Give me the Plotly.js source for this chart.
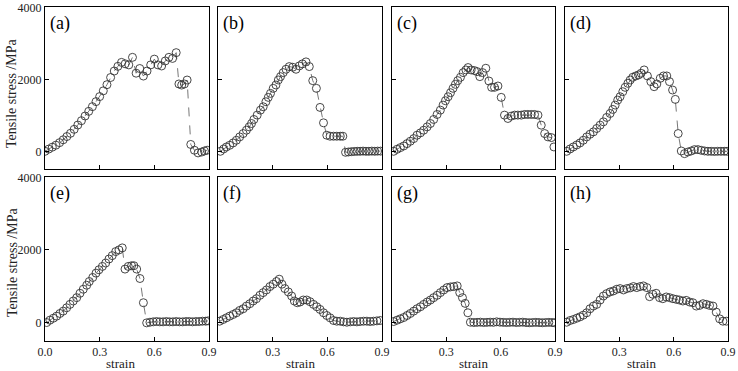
<!DOCTYPE html>
<html>
<head>
<meta charset="utf-8">
<script src="https://cdn.plot.ly/plotly-3.0.1.min.js"></script>
<style>
  html, body { margin: 0; padding: 0; background: #fff; }
  #chart { width: 738px; height: 371px; }
</style>
</head>
<body>
<div id="chart"></div>
<script>
// Stress-strain curves for eight specimens, (a) to (h)
const strainA = [0,0.02,0.04,0.06,0.08,0.10,0.12,0.14,0.16,0.18,0.20,0.22,0.24,0.26,0.28,0.30,0.32,0.34,0.36,0.38,0.40,0.42,0.44,0.46,0.48,0.50,0.52,0.54,0.56,0.58,0.60,0.62,0.64,0.66,0.68,0.70,0.72,0.735,0.75,0.765,0.78,0.80,0.82,0.84,0.86,0.875,0.89];
const stressA = [0,60,115,170,240,320,410,500,610,730,850,980,1110,1240,1380,1520,1680,1850,2050,2230,2360,2470,2430,2400,2610,2170,2300,2090,2230,2400,2560,2400,2370,2510,2610,2580,2740,1870,1840,1870,1980,190,30,-45,-20,10,30];

const strainB = [0.013,0.031,0.046,0.064,0.083,0.101,0.119,0.138,0.156,0.171,0.184,0.197,0.215,0.233,0.248,0.263,0.276,0.288,0.303,0.318,0.331,0.343,0.358,0.373,0.391,0.41,0.428,0.446,0.463,0.483,0.501,0.52,0.54,0.56,0.579,0.597,0.615,0.634,0.652,0.671,0.685,0.70,0.716,0.732,0.748,0.764,0.78,0.796,0.812,0.828,0.844,0.86,0.876,0.892];
const stressB = [0,65,120,167,233,307,400,493,586,679,772,884,1005,1144,1237,1377,1498,1609,1749,1842,1981,2074,2186,2279,2353,2335,2279,2372,2428,2484,2353,1963,1749,1219,791,447,419,419,419,419,419,-28,-19,-10,-5,0,0,5,0,0,5,0,5,5];

const strainC = [0.009,0.028,0.046,0.065,0.083,0.101,0.12,0.138,0.157,0.175,0.194,0.212,0.23,0.249,0.267,0.282,0.295,0.31,0.323,0.337,0.35,0.363,0.378,0.393,0.408,0.42,0.437,0.455,0.47,0.485,0.5,0.518,0.535,0.55,0.566,0.585,0.603,0.621,0.64,0.658,0.677,0.695,0.714,0.732,0.75,0.769,0.787,0.806,0.824,0.843,0.861,0.88,0.894];
const stressC = [0,56,102,149,214,279,353,447,512,586,679,772,884,1023,1144,1284,1405,1516,1628,1749,1860,1963,2056,2186,2260,2326,2260,2242,2214,2074,2186,2307,1953,1777,1777,1814,1498,1005,912,977,1005,1005,1005,1023,1023,1023,1023,1005,726,493,400,381,121];

const strainD = [0.009,0.028,0.046,0.065,0.083,0.101,0.12,0.138,0.157,0.175,0.194,0.212,0.23,0.249,0.264,0.277,0.291,0.304,0.319,0.332,0.347,0.36,0.374,0.391,0.406,0.42,0.437,0.455,0.474,0.492,0.507,0.526,0.544,0.562,0.577,0.594,0.609,0.625,0.642,0.66,0.679,0.697,0.715,0.734,0.752,0.771,0.789,0.807,0.825,0.843,0.861,0.879,0.895];
const stressD = [0,65,121,177,233,307,400,474,540,633,726,819,940,1051,1163,1284,1423,1516,1656,1777,1888,1981,2056,2093,2121,2167,2260,2093,1935,1795,1870,2028,2093,2093,1935,1702,1442,493,9,-65,-19,9,47,47,28,9,0,0,-5,0,0,0,0];

const strainE = [0.009,0.027,0.046,0.064,0.082,0.10,0.119,0.137,0.155,0.174,0.192,0.21,0.229,0.243,0.262,0.28,0.296,0.315,0.333,0.351,0.369,0.388,0.406,0.424,0.439,0.457,0.475,0.488,0.503,0.521,0.54,0.558,0.576,0.594,0.612,0.63,0.648,0.666,0.684,0.702,0.72,0.738,0.756,0.774,0.792,0.81,0.828,0.846,0.864,0.882,0.895];
const stressE = [0,65,120,176,250,315,407,500,593,685,806,917,1028,1130,1241,1361,1454,1546,1639,1750,1843,1954,2000,2056,1472,1546,1565,1565,1472,1213,546,-9,9,20,28,20,20,28,20,20,28,20,20,28,28,20,28,28,37,37,46];

const strainF = [0.009,0.028,0.046,0.064,0.083,0.101,0.119,0.138,0.156,0.175,0.193,0.211,0.23,0.248,0.266,0.285,0.303,0.321,0.336,0.351,0.367,0.386,0.404,0.419,0.435,0.45,0.468,0.487,0.505,0.524,0.542,0.56,0.579,0.597,0.615,0.634,0.652,0.671,0.689,0.707,0.726,0.744,0.762,0.78,0.799,0.817,0.835,0.853,0.872,0.89];
const stressF = [37,83,130,176,222,269,333,380,454,519,593,657,750,824,898,991,1056,1130,1194,1056,935,843,731,593,546,565,620,620,574,500,435,361,269,194,130,56,37,37,19,9,19,28,19,28,37,37,28,37,46,56];

const strainG = [0.009,0.028,0.046,0.065,0.083,0.101,0.12,0.138,0.157,0.175,0.194,0.212,0.23,0.249,0.267,0.286,0.304,0.323,0.341,0.36,0.374,0.389,0.404,0.419,0.433,0.452,0.47,0.488,0.506,0.524,0.542,0.56,0.578,0.596,0.614,0.632,0.65,0.668,0.686,0.704,0.722,0.74,0.758,0.776,0.794,0.812,0.83,0.848,0.866,0.884,0.898];
const stressG = [28,65,102,139,194,250,315,380,435,500,565,620,685,750,824,898,963,981,991,1009,824,685,528,269,9,0,5,10,0,5,10,5,20,10,5,0,5,10,0,5,10,0,-5,0,5,0,-5,0,5,0,-5];

const strainH = [0.009,0.028,0.046,0.065,0.083,0.101,0.12,0.138,0.157,0.175,0.194,0.212,0.23,0.249,0.267,0.286,0.304,0.323,0.341,0.36,0.378,0.396,0.415,0.433,0.452,0.467,0.485,0.503,0.522,0.54,0.559,0.577,0.596,0.614,0.632,0.651,0.669,0.688,0.706,0.725,0.743,0.762,0.78,0.798,0.817,0.835,0.854,0.872,0.891];
const stressH = [9,56,83,120,157,204,269,380,454,500,620,731,796,843,870,917,935,898,935,954,991,963,991,1009,963,713,778,806,685,657,704,685,657,639,620,593,611,565,546,454,472,519,500,472,454,287,102,37,37];

const panelLabels = ['(a)','(b)','(c)','(d)','(e)','(f)','(g)','(h)'];
const xTickVals = [0, 0.3, 0.6, 0.9];
const xTickTextFirst = ['0.0', '0.3', '0.6', '0.9'];
const xTickTextRest = ['', '0.3', '0.6', '0.9'];
const yTickVals = [0, 2000, 4000];
const yTickText = ['0', '2000', '4000'];
const xTitle = 'strain';
const yTitle = 'Tensile stress /MPa';

const series = [
  [strainA, stressA], [strainB, stressB], [strainC, stressC], [strainD, stressD],
  [strainE, stressE], [strainF, stressF], [strainG, stressG], [strainH, stressH]
];

// Panel grid geometry (paper fractions)
const W = 738, H = 371;
const colPx = [[45, 209], [218, 382], [392, 555], [565, 728]];
const rowPx = [[7.3, 169.3], [177.3, 340.7]];
const serif = 'Liberation Serif';
const ink = '#222';

const traces = [];
const layout = {
  width: W, height: H,
  margin: {l: 0, r: 0, t: 0, b: 0},
  paper_bgcolor: '#fff',
  plot_bgcolor: '#fff',
  showlegend: false,
  font: {family: serif, size: 12, color: ink},
  annotations: []
};

series.forEach(([xs, ys], i) => {
  const n = i + 1;
  const col = i % 4, row = Math.floor(i / 4);
  const xName = n === 1 ? 'xaxis' : 'xaxis' + n;
  const yName = n === 1 ? 'yaxis' : 'yaxis' + n;
  const xRef = n === 1 ? 'x' : 'x' + n;
  const yRef = n === 1 ? 'y' : 'y' + n;

  traces.push({
    x: xs, y: ys,
    xaxis: xRef, yaxis: yRef,
    type: 'scatter',
    mode: 'lines+markers',
    line: {color: '#555', width: 0.8, dash: 'dash'},
    marker: {symbol: 'circle-open', size: 8, color: '#333', line: {width: 0.9, color: '#333'}},
    hoverinfo: 'x+y'
  });

  layout[xName] = {
    domain: [colPx[col][0] / W, colPx[col][1] / W],
    anchor: yRef,
    range: [0, 0.9],
    tickvals: xTickVals,
    ticktext: col === 0 ? xTickTextFirst : xTickTextRest,
    showticklabels: row === 1,
    ticks: 'inside', ticklen: 4, tickwidth: 1, tickcolor: '#000',
    showline: true, linecolor: '#000', linewidth: 1, mirror: true,
    showgrid: false, zeroline: false,
    tickfont: {family: serif, size: 12, color: ink}
  };
  layout[yName] = {
    domain: [1 - rowPx[row][1] / H, 1 - rowPx[row][0] / H],
    anchor: xRef,
    range: [-500, 4000],
    tickvals: yTickVals,
    ticktext: yTickText,
    showticklabels: col === 0,
    ticks: 'inside', ticklen: 4, tickwidth: 1, tickcolor: '#000',
    showline: true, linecolor: '#000', linewidth: 1, mirror: true,
    showgrid: false, zeroline: false,
    tickfont: {family: serif, size: 12, color: ink}
  };

  layout.annotations.push({
    text: panelLabels[i],
    xref: xRef + ' domain', yref: yRef + ' domain',
    x: 0.02, y: 0.975, xanchor: 'left', yanchor: 'top',
    showarrow: false,
    font: {family: serif, size: 18, color: '#000'}
  });
});

// Axis titles
[94, 263].forEach(cy => {
  layout.annotations.push({
    text: yTitle, xref: 'paper', yref: 'paper',
    x: 12 / W, y: 1 - cy / H, xanchor: 'center', yanchor: 'middle',
    textangle: -90, showarrow: false,
    font: {family: serif, size: 14, color: ink}
  });
});
[120, 300, 473, 641].forEach(cx => {
  layout.annotations.push({
    text: xTitle, xref: 'paper', yref: 'paper',
    x: cx / W, y: 1 - 363 / H, xanchor: 'center', yanchor: 'middle',
    showarrow: false,
    font: {family: serif, size: 13, color: ink}
  });
});

Plotly.newPlot('chart', traces, layout, {displayModeBar: false, staticPlot: true});
</script>
</body>
</html>
